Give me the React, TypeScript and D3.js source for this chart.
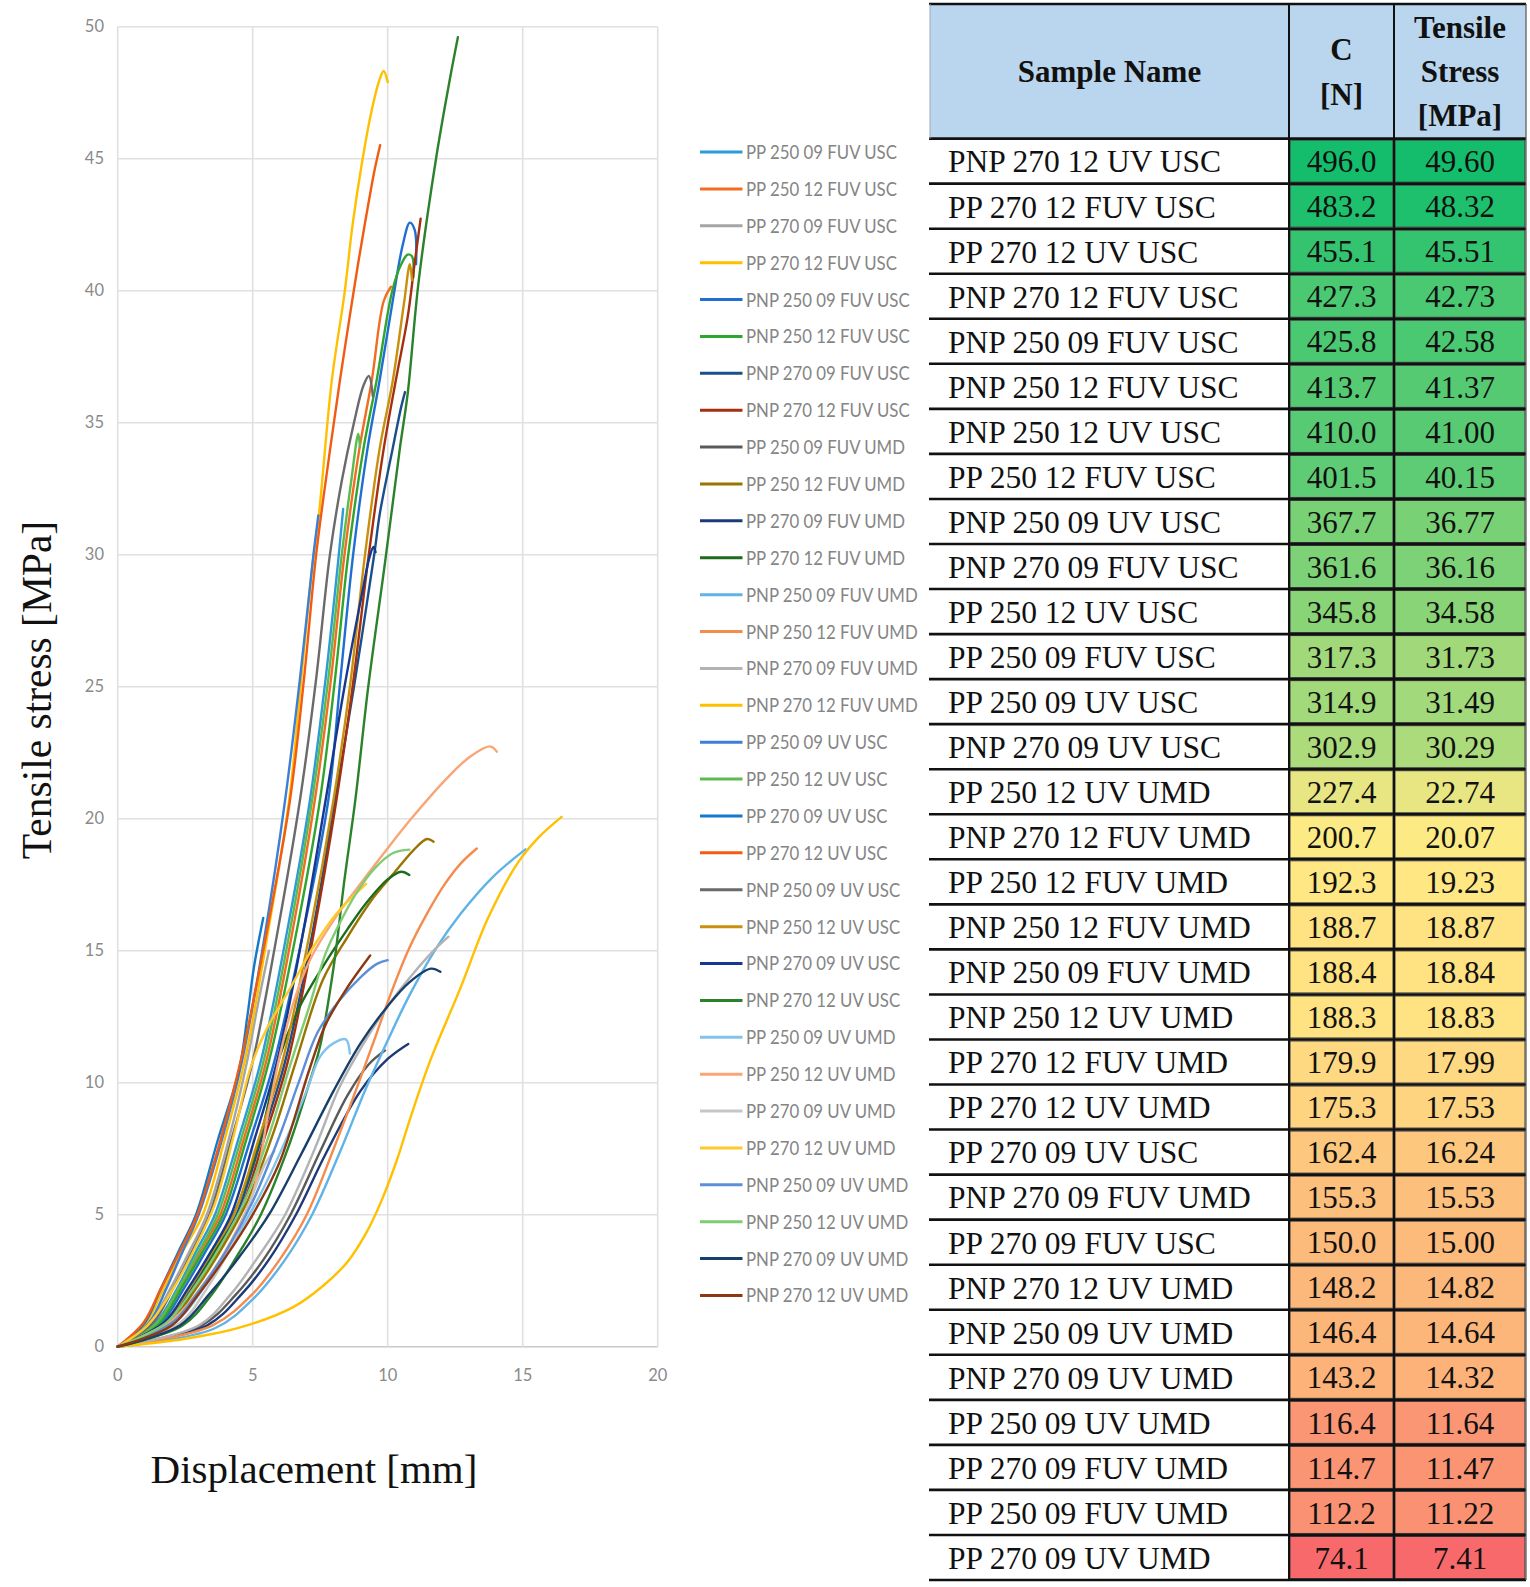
import React from 'react';
import * as d3 from 'd3';

type Pt = [number, number];

// axis ticks
const xTicks = [0, 5, 10, 15, 20];
const yTicks = [0, 5, 10, 15, 20, 25, 30, 35, 40, 45, 50];

// legend / series names (drawing order = legend order)
const seriesNames = [
  'PP 250 09 FUV USC', 'PP 250 12 FUV USC', 'PP 270 09 FUV USC', 'PP 270 12 FUV USC',
  'PNP 250 09 FUV USC', 'PNP 250 12 FUV USC', 'PNP 270 09 FUV USC', 'PNP 270 12 FUV USC',
  'PP 250 09 FUV UMD', 'PP 250 12 FUV UMD', 'PP 270 09 FUV UMD', 'PP 270 12 FUV UMD',
  'PNP 250 09 FUV UMD', 'PNP 250 12 FUV UMD', 'PNP 270 09 FUV UMD', 'PNP 270 12 FUV UMD',
  'PP 250 09 UV USC', 'PP 250 12 UV USC', 'PP 270 09 UV USC', 'PP 270 12 UV USC',
  'PNP 250 09 UV USC', 'PNP 250 12 UV USC', 'PNP 270 09 UV USC', 'PNP 270 12 UV USC',
  'PP 250 09 UV UMD', 'PP 250 12 UV UMD', 'PP 270 09 UV UMD', 'PP 270 12 UV UMD',
  'PNP 250 09 UV UMD', 'PNP 250 12 UV UMD', 'PNP 270 09 UV UMD', 'PNP 270 12 UV UMD',
];

const seriesColors = [
  '#2e9ad8', '#f26c22', '#a5a5a5', '#ffc000', '#1e6fd1', '#2ea52e', '#1b4f8c', '#a5300f',
  '#5a5a5a', '#9a7400', '#1c3a7a', '#1e6b1e', '#5fb3e6', '#f58b4c', '#b3b3b3', '#ffc000',
  '#3c7fd6', '#5cbb4e', '#1479c9', '#f25b12', '#6a6a6a', '#c8900c', '#16388e', '#2a822a',
  '#82c3ec', '#f8a677', '#c6c6c6', '#ffca28', '#5d8fd8', '#80cb74', '#183f6c', '#8c3812',
];

// displacement [mm], tensile stress [MPa]
const pp25009FuvUsc: Pt[] = [[0, 0], [1.4, 0.9], [2.2, 2.2], [2.9, 3.6], [3.6, 5.0], [4.45, 7.8], [5.3, 10.8], [6.25, 15.6], [7.12, 20.7], [7.7, 25.3], [8.15, 29.6], [8.35, 31.73]];
const pp25012FuvUsc: Pt[] = [[0, 0], [1.5, 0.9], [2.3, 2.2], [3.05, 3.6], [3.8, 5.0], [4.65, 7.8], [5.5, 10.8], [6.45, 15.6], [7.3, 20.7], [7.9, 25.3], [8.4, 30.0], [8.95, 34.0], [9.41, 36.6], [9.85, 39.6], [10.12, 40.15]];
const pp27009FuvUsc: Pt[] = [[0, 0], [1.2, 0.9], [1.95, 2.2], [2.65, 3.6], [3.3, 5.0], [4.1, 7.8], [4.75, 10.6], [5.2, 13.0], [5.6, 15.0]];
const pp27012FuvUsc: Pt[] = [[0, 0], [1.05, 0.9], [1.7, 2.2], [2.4, 3.6], [3.15, 5.0], [3.95, 7.8], [4.7, 10.8], [5.55, 15.6], [6.35, 20.7], [6.8, 25.3], [7.2, 29.5], [7.45, 31.5], [7.93, 36.6], [8.4, 39.9], [8.7, 42.5], [9.04, 44.8], [9.4, 46.8], [9.7, 48.0], [9.85, 48.32], [10.0, 47.9]];
const pnp25009FuvUsc: Pt[] = [[0, 0], [1.6, 0.9], [2.45, 2.2], [3.25, 3.6], [4.0, 5.0], [4.9, 7.8], [5.8, 10.8], [6.85, 15.6], [7.8, 20.7], [8.25, 25.3], [8.72, 30.0], [9.25, 34.0], [9.7, 36.6], [10.2, 39.7], [10.55, 41.7], [10.82, 42.58], [11.0, 42.3], [11.05, 41.0]];
const pnp25012FuvUsc: Pt[] = [[0, 0], [1.55, 0.9], [2.35, 2.2], [3.15, 3.6], [3.9, 5.0], [4.75, 7.8], [5.6, 10.8], [6.6, 15.6], [7.49, 20.7], [8.05, 25.3], [8.54, 30.0], [9.1, 34.0], [9.59, 36.6], [10.17, 40.0], [10.5, 41.0], [10.74, 41.37], [10.9, 41.3], [10.95, 40.5]];
const pnp27009FuvUsc: Pt[] = [[0, 0], [1.8, 0.9], [2.7, 2.2], [3.6, 3.6], [4.4, 5.0], [5.3, 7.8], [6.2, 10.8], [7.2, 15.6], [8.05, 20.7], [8.75, 25.0], [9.5, 30.0], [9.71, 31.57], [10.2, 34.1], [10.5, 35.6], [10.64, 36.16]];
const pnp27012FuvUsc: Pt[] = [[0, 0], [1.85, 0.9], [2.8, 2.2], [3.7, 3.6], [4.5, 5.0], [5.4, 7.8], [6.3, 10.8], [7.25, 15.6], [8.1, 20.7], [8.7, 25.0], [9.3, 30.0], [9.85, 34.0], [10.3, 36.6], [10.74, 39.0], [10.98, 40.9], [11.22, 42.73]];
const pp25009FuvUmd: Pt[] = [[0, 0], [3.1, 0.8], [4.4, 2.0], [5.4, 3.3], [6.4, 5.0], [7.5, 7.4], [8.5, 9.5], [9.3, 10.7], [9.9, 11.22]];
const pp25012FuvUmd: Pt[] = [[0, 0], [1.9, 0.9], [2.9, 2.2], [3.9, 3.8], [4.8, 5.5], [5.8, 8.2], [6.6, 10.8], [7.6, 13.9], [8.5, 15.5], [9.5, 17.05], [10.2, 17.9], [10.95, 18.8], [11.45, 19.23], [11.7, 19.13]];
const pp27009FuvUmd: Pt[] = [[0, 0], [3.3, 0.8], [4.6, 2.0], [5.6, 3.3], [6.6, 5.0], [7.7, 7.3], [9.0, 9.7], [10.0, 10.9], [10.76, 11.47]];
const pp27012FuvUmd: Pt[] = [[0, 0], [1.8, 0.9], [2.8, 2.2], [3.7, 3.8], [4.5, 5.5], [5.3, 8.0], [6.0, 11.0], [6.75, 12.9], [7.6, 14.4], [8.5, 15.8], [9.2, 16.8], [10.0, 17.7], [10.5, 17.99], [10.8, 17.87]];
const pnp25009FuvUmd: Pt[] = [[0, 0], [3.6, 0.7], [5.1, 1.9], [6.2, 3.3], [7.2, 5.0], [8.2, 7.3], [9.2, 9.8], [10.0, 11.6], [10.8, 13.3], [11.8, 15.1], [12.7, 16.4], [13.9, 17.8], [15.1, 18.84]];
const pnp25012FuvUmd: Pt[] = [[0, 0], [3.5, 0.8], [5.0, 2.0], [6.0, 3.3], [7.0, 5.0], [8.0, 7.5], [9.0, 10.2], [9.6, 11.9], [10.2, 13.6], [10.8, 15.1], [11.4, 16.3], [12.1, 17.5], [12.7, 18.3], [13.3, 18.87]];
const pnp27009FuvUmd: Pt[] = [[0, 0], [3.0, 0.8], [4.2, 2.0], [5.2, 3.4], [6.2, 5.0], [7.3, 7.5], [8.2, 9.8], [9.0, 11.3], [10.0, 12.9], [11.0, 14.2], [11.7, 15.0], [12.25, 15.53]];
const pnp27012FuvUmd: Pt[] = [[0, 0], [2.5, 0.3], [4.6, 0.75], [6.5, 1.5], [7.6, 2.3], [8.5, 3.2], [9.2, 4.3], [9.8, 5.6], [10.35, 7.1], [10.85, 8.7], [11.6, 10.9], [12.7, 13.6], [13.7, 16.2], [14.8, 18.3], [15.6, 19.3], [16.44, 20.07]];
const pp25009UvUsc: Pt[] = [[0, 0], [1.15, 0.9], [1.8, 2.2], [2.4, 3.6], [3.0, 5.0], [3.85, 7.8], [4.6, 10.8], [5.45, 15.6], [6.2, 20.7], [6.75, 25.3], [7.25, 30.0], [7.43, 31.49]];
const pp25012UvUsc: Pt[] = [[0, 0], [1.45, 0.9], [2.25, 2.2], [3.0, 3.6], [3.7, 5.0], [4.55, 7.8], [5.4, 10.8], [6.35, 15.6], [7.2, 20.7], [7.8, 25.3], [8.3, 30.0], [8.65, 32.8], [8.91, 34.58], [8.97, 34.09]];
const pp27009UvUsc: Pt[] = [[0, 0], [1.0, 0.9], [1.6, 2.2], [2.25, 3.6], [2.9, 5.0], [3.7, 7.8], [4.5, 10.5], [4.8, 12.5], [5.05, 14.4], [5.39, 16.24]];
const pp27012UvUsc: Pt[] = [[0, 0], [0.95, 0.9], [1.6, 2.2], [2.3, 3.6], [2.95, 5.0], [3.8, 7.8], [4.55, 10.8], [5.5, 15.6], [6.38, 20.7], [6.9, 25.3], [7.35, 30.0], [7.8, 33.5], [8.23, 36.6], [8.56, 38.8], [8.9, 41.0], [9.2, 42.8], [9.5, 44.5], [9.72, 45.51]];
const pnp25009UvUsc: Pt[] = [[0, 0], [1.3, 0.9], [2.05, 2.2], [2.75, 3.6], [3.4, 5.0], [4.2, 7.8], [5.0, 10.8], [5.9, 15.6], [6.75, 20.7], [7.35, 25.3], [7.86, 30.0], [8.3, 32.8], [8.75, 35.0], [9.1, 36.4], [9.3, 36.77], [9.45, 36.0]];
const pnp25012UvUsc: Pt[] = [[0, 0], [1.75, 0.9], [2.65, 2.2], [3.5, 3.6], [4.3, 5.0], [5.2, 7.8], [6.1, 10.8], [7.1, 15.6], [7.99, 20.7], [8.6, 25.0], [9.16, 30.0], [9.7, 34.0], [10.19, 36.6], [10.6, 39.5], [10.82, 41.0], [10.9, 40.4]];
const pnp27009UvUsc: Pt[] = [[0, 0], [1.7, 0.9], [2.6, 2.2], [3.45, 3.6], [4.2, 5.0], [5.05, 7.8], [5.9, 10.8], [6.85, 15.6], [7.7, 20.7], [8.4, 25.0], [9.1, 28.8], [9.3, 29.8], [9.47, 30.29], [9.55, 30.1]];
const pnp27012UvUsc: Pt[] = [[0, 0], [2.4, 0.8], [3.5, 2.0], [4.4, 3.4], [5.3, 5.0], [6.3, 7.5], [7.1, 10.0], [7.5, 11.4], [8.0, 14.4], [8.4, 17.7], [8.8, 20.7], [9.28, 25.0], [9.9, 29.7], [10.46, 34.1], [10.74, 36.1], [11.14, 40.3], [11.79, 45.0], [12.3, 48.0], [12.6, 49.6]];
const pp25009UvUmd: Pt[] = [[0, 0], [2.2, 1.0], [3.3, 2.4], [4.3, 4.0], [5.3, 5.8], [6.3, 8.0], [7.0, 9.7], [7.5, 11.0], [8.0, 11.5], [8.45, 11.64], [8.6, 11.1]];
const pp25012UvUmd: Pt[] = [[0, 0], [2.0, 1.0], [3.2, 2.4], [4.2, 4.0], [5.0, 5.8], [5.6, 9.0], [6.0, 11.0], [6.5, 13.0], [7.12, 14.65], [8.0, 16.16], [9.0, 17.55], [9.9, 18.75], [10.83, 19.95], [12.19, 21.53], [13.05, 22.35], [13.79, 22.74], [14.04, 22.54]];
const pp27009UvUmd: Pt[] = [[0, 0], [2.3, 0.9], [3.3, 2.2], [4.2, 3.8], [4.9, 5.5], [5.5, 7.0], [5.8, 7.41]];
const pp27012UvUmd: Pt[] = [[0, 0], [1.1, 0.8], [2.0, 2.1], [2.8, 3.6], [3.6, 5.4], [4.3, 8.0], [4.9, 10.5], [5.5, 12.0], [6.4, 13.6], [7.25, 15.15], [8.1, 16.4], [9.2, 17.53]];
const pnp25009UvUmd: Pt[] = [[0, 0], [2.0, 0.9], [3.0, 2.1], [4.0, 3.6], [5.0, 5.5], [6.0, 8.0], [6.7, 10.0], [7.4, 11.9], [8.2, 13.1], [9.0, 14.0], [9.6, 14.5], [10.0, 14.64]];
const pnp25012UvUmd: Pt[] = [[0, 0], [1.8, 0.9], [2.8, 2.2], [3.8, 3.8], [4.7, 5.5], [5.6, 8.0], [6.4, 10.7], [7.1, 12.9], [7.7, 14.9], [8.2, 16.0], [8.85, 17.2], [9.5, 18.1], [10.2, 18.7], [10.8, 18.83]];
const pnp27009UvUmd: Pt[] = [[0, 0], [2.3, 0.8], [3.4, 2.0], [4.5, 3.4], [5.6, 5.0], [6.8, 7.3], [8.0, 9.7], [9.0, 11.5], [10.0, 12.9], [10.8, 13.8], [11.6, 14.32], [11.95, 14.2]];
const pnp27012UvUmd: Pt[] = [[0, 0], [2.0, 0.8], [3.0, 2.0], [4.0, 3.4], [5.0, 5.0], [6.0, 7.0], [7.1, 10.5], [7.7, 12.2], [8.5, 13.6], [9.35, 14.82]];

const seriesData: Pt[][] = [
  pp25009FuvUsc, pp25012FuvUsc, pp27009FuvUsc, pp27012FuvUsc,
  pnp25009FuvUsc, pnp25012FuvUsc, pnp27009FuvUsc, pnp27012FuvUsc,
  pp25009FuvUmd, pp25012FuvUmd, pp27009FuvUmd, pp27012FuvUmd,
  pnp25009FuvUmd, pnp25012FuvUmd, pnp27009FuvUmd, pnp27012FuvUmd,
  pp25009UvUsc, pp25012UvUsc, pp27009UvUsc, pp27012UvUsc,
  pnp25009UvUsc, pnp25012UvUsc, pnp27009UvUsc, pnp27012UvUsc,
  pp25009UvUmd, pp25012UvUmd, pp27009UvUmd, pp27012UvUmd,
  pnp25009UvUmd, pnp25012UvUmd, pnp27009UvUmd, pnp27012UvUmd,
];

// table (sorted by strength)
const tableNames = [
  'PNP 270 12 UV USC', 'PP 270 12 FUV USC', 'PP 270 12 UV USC', 'PNP 270 12 FUV USC',
  'PNP 250 09 FUV USC', 'PNP 250 12 FUV USC', 'PNP 250 12 UV USC', 'PP 250 12 FUV USC',
  'PNP 250 09 UV USC', 'PNP 270 09 FUV USC', 'PP 250 12 UV USC', 'PP 250 09 FUV USC',
  'PP 250 09 UV USC', 'PNP 270 09 UV USC', 'PP 250 12 UV UMD', 'PNP 270 12 FUV UMD',
  'PP 250 12 FUV UMD', 'PNP 250 12 FUV UMD', 'PNP 250 09 FUV UMD', 'PNP 250 12 UV UMD',
  'PP 270 12 FUV UMD', 'PP 270 12 UV UMD', 'PP 270 09 UV USC', 'PNP 270 09 FUV UMD',
  'PP 270 09 FUV USC', 'PNP 270 12 UV UMD', 'PNP 250 09 UV UMD', 'PNP 270 09 UV UMD',
  'PP 250 09 UV UMD', 'PP 270 09 FUV UMD', 'PP 250 09 FUV UMD', 'PP 270 09 UV UMD',
];
const tableForce = [
  496.0, 483.2, 455.1, 427.3, 425.8, 413.7, 410.0, 401.5, 367.7, 361.6, 345.8, 317.3, 314.9, 302.9, 227.4, 200.7,
  192.3, 188.7, 188.4, 188.3, 179.9, 175.3, 162.4, 155.3, 150.0, 148.2, 146.4, 143.2, 116.4, 114.7, 112.2, 74.1,
];
const tableStress = [
  49.60, 48.32, 45.51, 42.73, 42.58, 41.37, 41.00, 40.15, 36.77, 36.16, 34.58, 31.73, 31.49, 30.29, 22.74, 20.07,
  19.23, 18.87, 18.84, 18.83, 17.99, 17.53, 16.24, 15.53, 15.00, 14.82, 14.64, 14.32, 11.64, 11.47, 11.22, 7.41,
];

const W = 1530, H = 1587;
const plot = { left: 117.7, right: 657.7, top: 26.7, bottom: 1346.7 };
const serif = '"Liberation Serif", "Times New Roman", serif';
const sans = 'Lato, "Open Sans", sans-serif';

export default function App() {
  const x = d3.scaleLinear().domain([0, 20]).range([plot.left, plot.right]);
  const y = d3.scaleLinear().domain([0, 50]).range([plot.bottom, plot.top]);
  const line = d3.line<Pt>().x(d => x(d[0])).y(d => y(d[1])).curve(d3.curveCatmullRom.alpha(0.5));

  // legend
  const legend = d3.scalePoint<number>().domain(d3.range(seriesNames.length)).range([152, 1295.5]);

  // table geometry
  const tbl = { left: 930, c1: 1289, c2: 1394, right: 1526, top: 4, headBottom: 138.6, bottom: 1580 };
  const row = d3.scaleBand<number>().domain(d3.range(tableNames.length)).range([tbl.headBottom, tbl.bottom]);
  const sorted = [...tableForce].sort((a, b) => a - b);
  const median = d3.quantile(sorted, 0.5) as number;
  const fScale = d3.scaleLinear<string>()
    .domain([d3.min(tableForce) as number, median, d3.max(tableForce) as number])
    .range(['#f8696b', '#ffeb84', '#14bd6c']);
  const sScale = d3.scaleLinear<string>()
    .domain([d3.min(tableStress) as number, median / 10, d3.max(tableStress) as number])
    .range(['#f8696b', '#ffeb84', '#14bd6c']);
  const col1 = (tbl.left + tbl.c1) / 2;
  const col2 = (tbl.c1 + tbl.c2) / 2;
  const col3 = (tbl.c2 + tbl.right) / 2;

  return (
    <svg width={W} height={H} style={{ position: 'absolute', left: 0, top: 0, background: '#fff' }}>
      <rect width={W} height={H} fill="#fff" />

      {/* grid */}
      {yTicks.map(t => (
        <line key={'gy' + t} x1={plot.left} x2={plot.right} y1={y(t)} y2={y(t)}
          stroke={t === 0 ? '#c9c9c9' : '#e0e0e0'} strokeWidth={1.6} />
      ))}
      {xTicks.map(t => (
        <line key={'gx' + t} x1={x(t)} x2={x(t)} y1={plot.top} y2={plot.bottom}
          stroke="#e0e0e0" strokeWidth={1.6} />
      ))}
      {yTicks.map(t => (
        <text key={'ty' + t} x={104} y={y(t)} dy="0.35em" textAnchor="end"
          fontFamily={sans} fontSize={16.5} fill="#8a8a8a">{t}</text>
      ))}
      {xTicks.map(t => (
        <text key={'tx' + t} x={x(t)} y={1375} dy="0.35em" textAnchor="middle"
          fontFamily={sans} fontSize={16.5} fill="#8a8a8a">{t}</text>
      ))}

      {/* curves */}
      {seriesData.map((d, i) => (
        <path key={'s' + i} d={line(d) || ''} fill="none" stroke={seriesColors[i]}
          strokeWidth={2.4} strokeLinejoin="round" strokeLinecap="round" />
      ))}

      {/* axis titles */}
      <text x={314} y={1483} textAnchor="middle" fontFamily={serif} fontSize={41} fill="#111">
        Displacement [mm]
      </text>
      <text transform="translate(51,690) rotate(-90)" textAnchor="middle" fontFamily={serif}
        fontSize={41.5} fill="#111">Tensile stress [MPa]</text>

      {/* legend */}
      {seriesNames.map((n, i) => (
        <g key={'l' + i} transform={`translate(0,${legend(i)})`}>
          <line x1={700} x2={742.5} y1={0} y2={0} stroke={seriesColors[i]} strokeWidth={3} />
          <text transform="translate(746,0) scale(1,1.15)" dy="0.36em" fontFamily={sans}
            fontSize={16.8} fill="#858585">{n}</text>
        </g>
      ))}

      {/* table header */}
      <rect x={tbl.left} y={tbl.top} width={tbl.right - tbl.left} height={tbl.headBottom - tbl.top}
        fill="#bad6ee" />
      <g fontFamily={serif} fontWeight="bold" fontSize={31} fill="#111" textAnchor="middle">
        <text x={col1} y={71} dy="0.35em">Sample Name</text>
        <text x={col2} y={49} dy="0.35em">C</text>
        <text x={col2} y={94} dy="0.35em">[N]</text>
        <text x={col3} y={27} dy="0.35em">Tensile</text>
        <text x={col3} y={71} dy="0.35em">Stress</text>
        <text x={col3} y={115} dy="0.35em">[MPa]</text>
      </g>

      {/* table rows */}
      {tableNames.map((n, i) => {
        const y0 = row(i) as number;
        const h = row.bandwidth();
        const cy = y0 + h / 2;
        return (
          <g key={'r' + i}>
            <rect x={tbl.c1 + 1} y={y0 + 1.5} width={tbl.c2 - tbl.c1 - 2} height={h - 3}
              fill={fScale(tableForce[i])} stroke="#3a3a3a" strokeWidth={1} />
            <rect x={tbl.c2 + 1} y={y0 + 1.5} width={tbl.right - tbl.c2 - 2} height={h - 3}
              fill={sScale(tableStress[i])} stroke="#3a3a3a" strokeWidth={1} />
            <text x={948} y={cy} dy="0.36em" fontFamily={serif} fontSize={31.5} fill="#111">{n}</text>
            <text x={col2} y={cy} dy="0.36em" textAnchor="middle"
              fontFamily={serif} fontSize={31} fill="#111">{tableForce[i].toFixed(1)}</text>
            <text x={col3} y={cy} dy="0.36em" textAnchor="middle"
              fontFamily={serif} fontSize={31} fill="#111">{tableStress[i].toFixed(2)}</text>
          </g>
        );
      })}

      {/* table rules */}
      {d3.range(tableNames.length + 1).map(i => {
        const yy = i === tableNames.length ? tbl.bottom : (row(i) as number);
        return <line key={'h' + i} x1={tbl.left - 1} x2={tbl.right} y1={yy} y2={yy} stroke="#111" strokeWidth={2.6} />;
      })}
      <line x1={tbl.left - 1} x2={tbl.right} y1={tbl.top} y2={tbl.top} stroke="#111" strokeWidth={2.6} />
      <line x1={tbl.c1} x2={tbl.c1} y1={tbl.top} y2={tbl.bottom} stroke="#111" strokeWidth={2} />
      <line x1={tbl.c2} x2={tbl.c2} y1={tbl.top} y2={tbl.bottom} stroke="#111" strokeWidth={2} />
      <line x1={tbl.right} x2={tbl.right} y1={tbl.top} y2={tbl.bottom} stroke="#555" strokeWidth={1.2} />
      <line x1={tbl.left} x2={tbl.left} y1={tbl.top} y2={tbl.headBottom} stroke="#9ab" strokeWidth={1} />
    </svg>
  );
}
